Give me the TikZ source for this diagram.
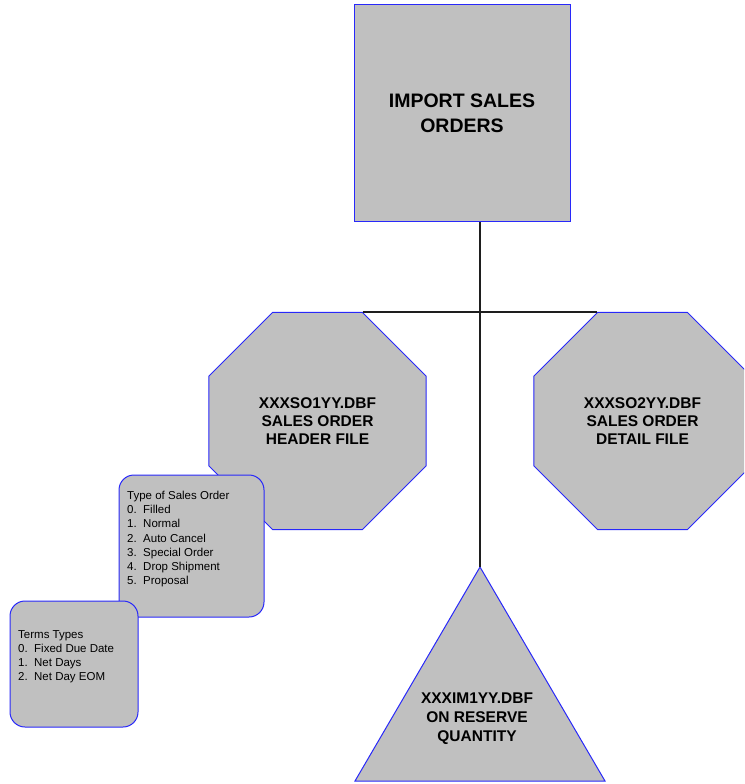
\documentclass[tikz,border=0pt]{standalone}
\usepackage{fontspec}
\setmainfont{Liberation Sans}
\usetikzlibrary{shapes.geometric}
\definecolor{boxfill}{RGB}{192,192,192}
\definecolor{boxline}{RGB}{40,40,250}
\definecolor{conn}{RGB}{30,30,30}
\tikzset{
  shapebox/.style={draw=boxline, fill=boxfill, line width=1pt},
  octa/.style={shapebox, regular polygon, regular polygon sides=8, minimum size=235pt, inner sep=0pt,
     align=center, font=\bfseries\fontsize{15.5}{18}\selectfont},
  bigtxt/.style={align=center, font=\bfseries\fontsize{19.5}{25}\selectfont},
  listbox/.style={shapebox, rounded corners=15pt},
  listtxt/.style={anchor=north west, inner sep=0pt, align=left},
  connector/.style={draw=conn, line width=1.2pt}
}
\newcommand{\itm}[2]{\makebox[16pt][l]{#1}#2}
\begin{document}
\begin{tikzpicture}[x=1pt, y=-1pt]
\useasboundingbox (0,0) rectangle (744,784);
\clip (0,0) rectangle (744,784);
% main square
\node[shapebox, minimum width=216pt, minimum height=217pt, bigtxt] (imp) at (462,113) {IMPORT SALES\\ORDERS};
% octagons
\node[octa] (hdr) at (317.5,421) {XXXSO1YY.DBF\\SALES ORDER\\HEADER FILE};
\node[octa] (dtl) at (642.5,421) {XXXSO2YY.DBF\\SALES ORDER\\DETAIL FILE};
% triangle
\coordinate (apex) at (480,567);
\coordinate (bl) at (355,781);
\coordinate (br) at (605,781);
\path[shapebox] (apex) -- (br) -- (bl) -- cycle;
\node[align=center, font=\bfseries\fontsize{15.5}{19}\selectfont] (tri) at (477,719) {XXXIM1YY.DBF\\ON RESERVE\\QUANTITY};
% connectors
\coordinate (junc) at (480,313);
\draw[connector] (imp.south -| junc) -- (apex);
\draw[connector] (hdr.corner 1) -- (dtl.corner 2);
% list boxes
\draw[listbox] (119,475) rectangle (264,617);
\node[listtxt, font=\fontsize{11.5}{14.2}\selectfont] (types) at (127,491)
  {Type of Sales Order\\\itm{0.}{Filled}\\\itm{1.}{Normal}\\\itm{2.}{Auto Cancel}\\\itm{3.}{Special Order}\\\itm{4.}{Drop Shipment}\\\itm{5.}{Proposal}};
\draw[listbox] (10,601) rectangle (138,727);
\node[listtxt, font=\fontsize{11.5}{14}\selectfont] (terms) at (18,630)
  {Terms Types\\\itm{0.}{Fixed Due Date}\\\itm{1.}{Net Days}\\\itm{2.}{Net Day EOM}};
\end{tikzpicture}
\end{document}
